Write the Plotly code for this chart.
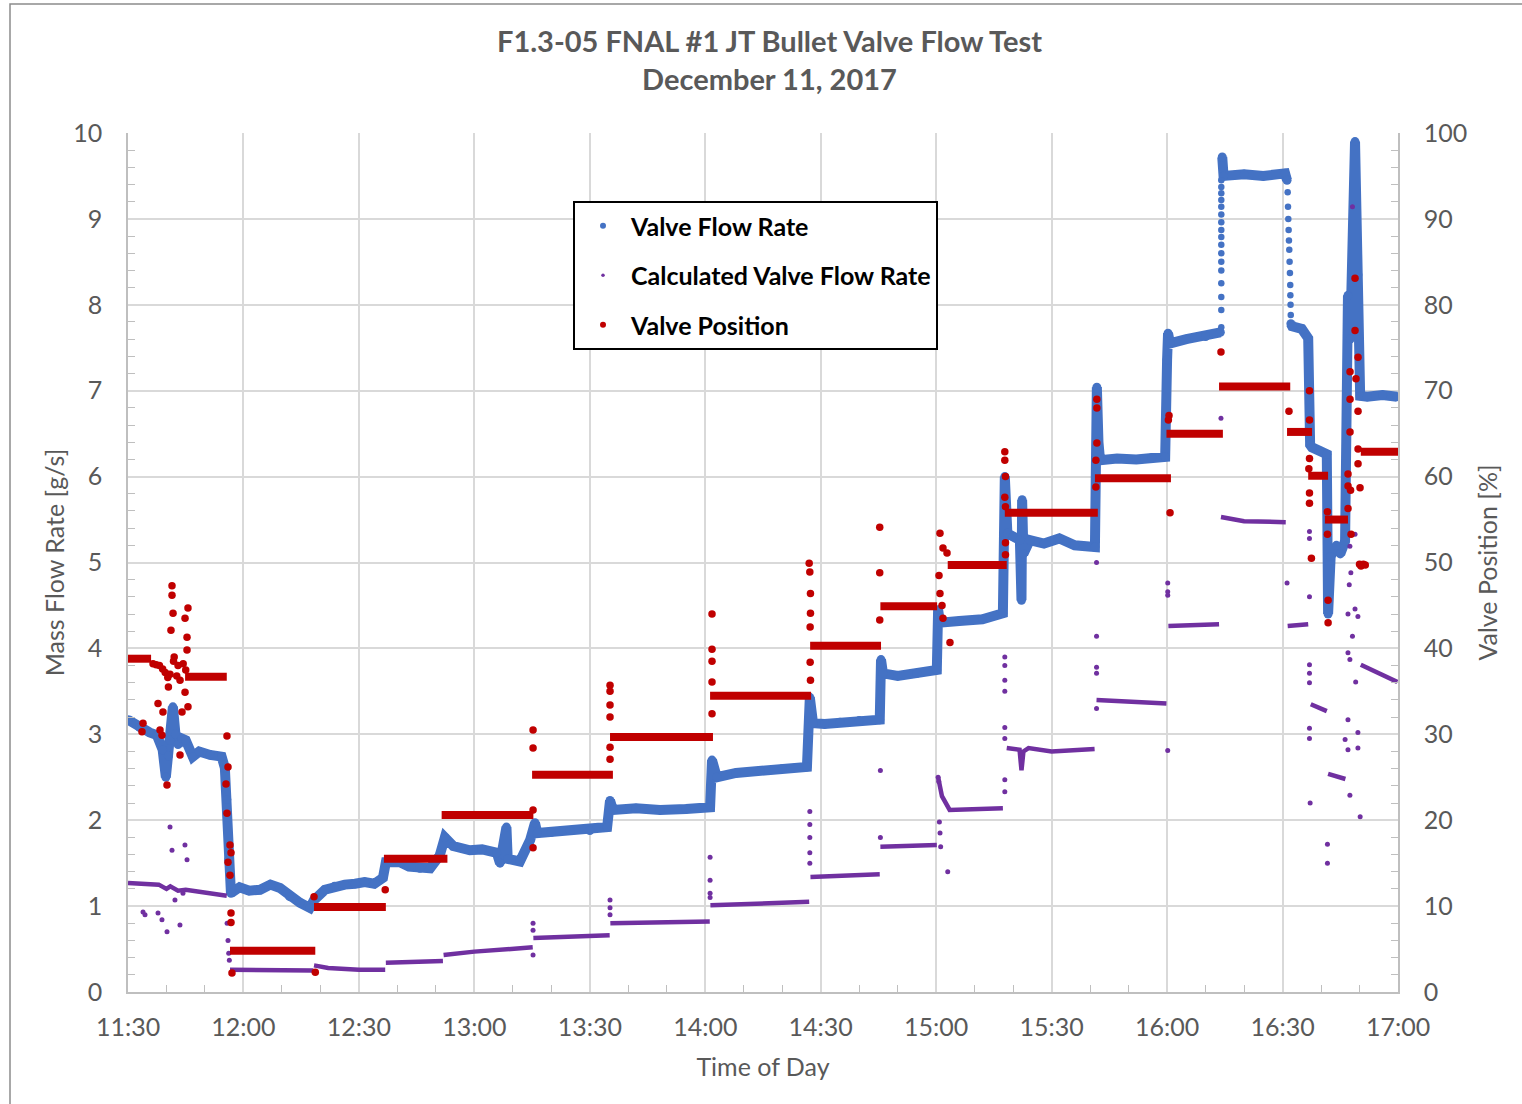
import plotly.graph_objects as go

DAY = "2017-12-11 "

TITLE_LINES = ["F1.3-05 FNAL #1 JT Bullet Valve Flow Test", "December 11, 2017"]
X_TITLE = "Time of Day"
Y_TITLE = "Mass Flow Rate [g/s]"
Y2_TITLE = "Valve Position [%]"
NAMES = ["Valve Flow Rate", "Calculated Valve Flow Rate", "Valve Position"]

# ---- Valve Flow Rate (g/s): continuous record (None = break where samples are sparse) ----
flow_time = ["11:30:00", "11:33:00", "11:35:40", "11:37:30", "11:39:00", "11:39:50", "11:40:30", "11:40:55",
             "11:41:40", "11:42:20", "11:43:00", "11:44:00", "11:45:00", "11:46:50", "11:48:30", "11:51:20",
             "11:54:20", "11:55:10", "11:55:40", "11:56:10", "11:56:45", "11:59:00", "12:01:30", "12:04:20",
             "12:07:00", "12:09:30", "12:12:00", "12:14:40", "12:17:15", "12:18:20", "12:21:10", "12:23:40",
             "12:26:20", "12:29:00", "12:31:30", "12:34:00", "12:36:15", "12:37:00", "12:40:40", "12:43:00",
             "12:45:50", "12:48:30", "12:51:00", "12:52:20", "12:54:30", "12:58:50", "13:02:00", "13:05:50",
             "13:06:40", "13:08:20", "13:08:40", "13:11:50", "13:14:30", "13:15:45", "13:16:20", "13:20:00",
             "13:24:50", "13:30:00", "13:34:30", "13:35:15", "13:36:00", "13:42:00", "13:48:15", "13:55:00",
             "14:01:15", "14:01:45", "14:03:00", "14:08:00", "14:14:15", "14:20:00", "14:26:25", "14:27:10",
             "14:28:00", "14:31:00", "14:35:00", "14:40:00", "14:45:20", "14:45:40", "14:46:10", "14:50:00",
             "14:55:00", "15:00:10", "15:00:30", "15:01:00", "15:06:00", "15:12:00", "15:17:20", "15:17:50",
             "15:18:30", "15:20:00", "15:21:45", "15:22:10", "15:22:20", "15:22:40", "15:24:20", "15:28:00",
             "15:32:00", "15:36:00", "15:41:15", "15:41:45", "15:42:10", "15:42:35", "15:47:00", "15:52:00",
             "15:56:00", "15:59:30", "16:00:00", "16:00:15", "16:00:45", "16:05:00", "16:10:00", "16:13:50",
             None,
             "16:14:20", "16:14:40", "16:20:00", "16:25:00", "16:30:40", "16:31:10",
             None,
             "16:32:10", "16:32:30", "16:35:00", "16:36:40", "16:37:10", "16:37:40", "16:41:30", "16:41:50",
             "16:42:30", "16:44:00", "16:45:00", "16:46:15", "16:47:00", "16:47:35", "16:48:50", "16:49:35",
             "16:50:10", "16:52:00", "16:56:00", "16:59:45"]
flow_value = [3.17, 3.08, 3.02, 2.99, 2.82, 2.50, 2.75, 2.93,
              3.32, 3.00, 2.88, 2.95, 2.93, 2.74, 2.80, 2.76,
              2.74, 2.61, 2.24, 1.54, 1.15, 1.22, 1.18, 1.19,
              1.25, 1.21, 1.11, 1.04, 0.98, 1.07, 1.19, 1.23,
              1.25, 1.26, 1.28, 1.26, 1.33, 1.51, 1.51, 1.46,
              1.44, 1.44, 1.59, 1.80, 1.70, 1.65, 1.66, 1.62,
              1.50, 1.92, 1.55, 1.52, 1.77, 1.97, 1.85, 1.86,
              1.88, 1.88, 1.92, 2.23, 2.12, 2.14, 2.12, 2.13,
              2.15, 2.70, 2.50, 2.55, 2.58, 2.60, 2.62, 3.43,
              3.13, 3.12, 3.14, 3.16, 3.17, 3.87, 3.71, 3.68,
              3.71, 3.75, 4.45, 4.30, 4.32, 4.34, 4.41, 6.00,
              5.34, 5.30, 5.26, 4.56, 5.73, 5.10, 5.26, 5.22,
              5.28, 5.20, 5.18, 7.04, 6.40, 6.19, 6.21, 6.20,
              6.22, 6.23, 7.36, 7.67, 7.55, 7.60, 7.63, 7.68,
              None,
              9.72, 9.50, 9.52, 9.50, 9.53, 9.45,
              None,
              7.78, 7.75, 7.72, 7.61, 6.37, 6.34, 6.26, 4.40,
              5.07, 5.20, 5.10, 5.25, 8.11, 7.60, 9.90, 8.35,
              6.94, 6.93, 6.95, 6.93]

# ---- Valve Flow Rate: sparse samples during the two large moves ----
flow_dot_time = ["16:14:05"] * 17 + ["16:31:20", "16:31:25", "16:31:30", "16:31:35", "16:31:40", "16:31:45",
                                     "16:31:50", "16:31:55", "16:32:00", "16:32:02", "16:32:05", "16:32:08"]
flow_dot_value = [7.74, 7.94, 8.09, 8.25, 8.40, 8.50, 8.60, 8.70, 8.79, 8.87, 8.96, 9.05, 9.14, 9.22,
                  9.30, 9.37, 9.45,
                  9.31, 9.14, 9.00, 8.87, 8.75, 8.64, 8.50, 8.37, 8.23, 8.11, 8.00, 7.88]

# ---- Calculated Valve Flow Rate (g/s): steady segments (None = break) ----
calc_time = ["11:30:00", "11:38:00", "11:40:00", "11:41:00", "11:43:00", "11:45:00", "11:55:40", None,
             "11:56:30", "12:10:00", "12:14:00", "12:18:10", None,
             "12:18:20", "12:22:00", "12:30:00", "12:36:50", None,
             "12:37:00", "12:51:50", None,
             "12:52:00", "13:00:00", "13:15:10", None,
             "13:15:20", "13:35:10", None,
             "13:35:20", "14:01:10", None,
             "14:01:20", "14:27:00", None,
             "14:27:20", "14:45:20", None,
             "14:45:30", "15:00:10", None,
             "15:00:30", "15:01:30", "15:03:30", "15:17:20", None,
             "15:18:20", "15:21:40", "15:22:10", "15:22:40", "15:24:00", "15:30:00", "15:41:10", None,
             "15:41:40", "15:50:00", "15:59:50", None,
             "16:00:20", "16:13:30", None,
             "16:14:00", "16:20:00", "16:30:50", None,
             "16:31:20", "16:36:40", None,
             "16:37:20", "16:41:30", None,
             "16:41:50", "16:46:20", None,
             "16:50:20", "16:59:50"]
calc_value = [1.27, 1.25, 1.20, 1.23, 1.18, 1.19, 1.12, None,
              0.26, 0.26, 0.25, 0.25, None,
              0.31, 0.28, 0.26, 0.26, None,
              0.34, 0.36, None,
              0.43, 0.47, 0.52, None,
              0.63, 0.66, None,
              0.80, 0.82, None,
              1.01, 1.05, None,
              1.34, 1.37, None,
              1.69, 1.71, None,
              2.50, 2.28, 2.12, 2.14, None,
              2.84, 2.82, 2.58, 2.80, 2.84, 2.80, 2.83, None,
              3.40, 3.38, 3.36, None,
              4.26, 4.28, None,
              5.53, 5.48, 5.47, None,
              4.26, 4.28, None,
              3.35, 3.27, None,
              2.54, 2.48, None,
              3.81, 3.61]

# ---- Calculated Valve Flow Rate: transient samples ----
calc_dot_time = ["11:33:54", "11:34:25", "11:37:48", "11:38:50", "11:40:08", "11:40:55", "11:41:26", "11:43:30",
                 "11:44:48", "11:45:20", "11:44:17", "11:42:12", "11:55:45", "11:55:59", "11:56:10", "11:56:20",
                 "13:15:15", "13:15:15", "13:15:15", "13:35:15", "13:35:15", "13:35:15",
                 "14:01:15", "14:01:15", "14:01:15", "14:01:15",
                 "14:27:10", "14:27:10", "14:27:10", "14:27:10", "14:27:10",
                 "14:45:30", "14:45:30", "15:00:30", "15:00:40", "15:00:50", "15:01:00", "15:01:10", "15:03:00",
                 "15:17:50", "15:17:50", "15:17:50", "15:17:50", "15:17:50", "15:17:50", "15:17:50", "15:17:50",
                 "15:41:40", "15:41:40", "15:41:40", "15:41:40", "15:41:40",
                 "16:00:10", "16:00:10", "16:00:10", "16:00:10", "16:14:00", "16:31:10",
                 "16:37:00", "16:37:00", "16:37:00", "16:37:00", "16:37:00", "16:37:00", "16:37:00", "16:37:00",
                 "16:37:10", "16:41:40", "16:41:40",
                 "16:47:00", "16:48:50", "16:49:35", "16:48:10", "16:47:00", "16:47:30", "16:49:00", "16:47:00",
                 "16:46:15", "16:47:00", "16:49:35", "16:49:35", "16:47:30", "16:50:10", "16:47:30", "16:48:50",
                 "16:48:10", "16:47:45", "16:47:20"]
calc_dot_value = [0.93, 0.90, 0.92, 0.84, 0.70, 1.92, 1.65, 0.78,
                  1.71, 1.54, 1.15, 1.07, 0.80, 0.60, 0.45, 0.37,
                  0.80, 0.72, 0.43, 1.07, 0.98, 0.90,
                  1.57, 1.30, 1.15, 1.10,
                  2.10, 1.95, 1.80, 1.62, 1.50,
                  2.58, 1.80, 2.50, 2.45, 1.98, 1.85, 1.69, 1.40,
                  3.90, 3.80, 3.63, 3.50, 3.08, 2.95, 2.47, 2.33,
                  5.00, 4.14, 3.78, 3.71, 3.30,
                  4.76, 4.66, 4.62, 2.81, 6.68, 4.76,
                  5.36, 5.28, 4.60, 3.81, 3.71, 3.60, 3.07, 2.95,
                  2.20, 1.72, 1.50,
                  4.40, 4.46, 4.37, 4.14, 3.95, 3.87, 3.61, 3.17,
                  2.94, 2.82, 3.02, 2.84, 2.29, 2.04, 5.19, 5.33,
                  9.14, 4.88, 4.74]

# ---- Valve Position (%): held settings ----
pos_start = ["11:30:00", "11:44:50", "11:56:30", "12:18:20", "12:36:30", "12:51:30", "13:15:00", "13:35:15",
             "14:01:15", "14:27:15", "14:45:30", "15:03:00", "15:17:50", "15:41:15", "15:59:50", "16:13:30",
             "16:31:10", "16:36:40", "16:41:00", "16:50:20"]
pos_end = ["11:36:00", "11:55:40", "12:18:40", "12:37:00", "12:53:00", "13:15:20", "13:36:00", "14:02:00",
           "14:27:30", "14:45:40", "15:00:15", "15:18:20", "15:42:00", "16:01:00", "16:14:30", "16:32:00",
           "16:37:40", "16:41:50", "16:47:00", "17:00:00"]
pos_value = [38.8, 36.7, 4.8, 9.9, 15.5, 20.6, 25.3, 29.7,
             34.5, 40.3, 44.9, 49.7, 55.8, 59.8, 65.0, 70.5,
             65.2, 60.1, 55.0, 62.9]

# ---- Valve Position (%): transient samples ----
pos_dot_time = ["11:36:30", "11:37:20", "11:38:10", "11:39:00", "11:39:40", "11:40:20",
                "11:41:26", "11:41:26", "11:41:42", "11:41:10", "11:45:35", "11:44:49", "11:45:20", "11:45:20",
                "11:43:31", "11:44:49", "11:45:35", "11:44:02", "11:37:48", "11:39:05", "11:33:54", "11:33:38",
                "11:38:19", "11:38:50", "11:40:08", "11:43:31", "11:40:30", "11:41:50", "11:42:40", "11:44:20",
                "11:45:00", "11:40:55", "11:42:00", "11:43:00",
                "11:55:43", "11:55:59", "11:55:28", "11:55:43", "11:56:30", "11:56:46", "11:55:59", "11:56:30",
                "11:56:46", "11:56:46", "11:57:01",
                "12:18:20", "12:18:40", "12:36:50",
                "13:15:15", "13:15:15", "13:15:15", "13:15:15",
                "13:35:15", "13:35:15", "13:35:15", "13:35:15", "13:35:15", "13:35:15",
                "14:01:45", "14:01:45", "14:01:45", "14:01:45", "14:01:45",
                "14:27:00", "14:27:10", "14:27:20", "14:27:20", "14:27:15", "14:27:15", "14:27:20",
                "14:45:20", "14:45:20", "14:45:20",
                "15:00:59", "15:01:46", "15:02:49", "15:00:44", "15:00:59", "15:01:31", "15:01:46", "15:03:35",
                "15:17:50", "15:17:50", "15:18:00", "15:17:50", "15:18:00", "15:18:00", "15:18:00",
                "15:41:45", "15:41:45", "15:41:45", "15:41:30", "15:41:30",
                "16:00:46", "16:00:30", "16:00:20", "16:14:00", "16:31:40",
                "16:37:00", "16:37:00", "16:37:00", "16:36:50", "16:37:00", "16:37:00", "16:37:30",
                "16:41:40", "16:41:40", "16:41:50", "16:41:50",
                "16:48:50", "16:48:50", "16:49:37", "16:47:32", "16:49:05", "16:47:32", "16:49:37", "16:47:32",
                "16:49:37", "16:49:37", "16:47:01", "16:50:08", "16:47:01", "16:47:48", "16:50:23", "16:47:01",
                "16:47:40", "16:50:00", "16:50:30", "16:51:00", "16:51:30"]
pos_dot_value = [38.2, 38.1, 38.0, 37.6, 37.2, 36.6,
                 47.3, 46.2, 44.1, 42.1, 44.7, 43.5, 41.3, 39.8,
                 36.3, 34.9, 33.2, 32.6, 33.6, 32.6, 31.3, 30.3,
                 30.5, 29.9, 24.1, 27.6, 35.5, 38.5, 36.8, 38.2,
                 37.5, 37.0, 39.0, 38.0,
                 29.8, 26.2, 24.2, 20.8, 17.1, 16.2, 15.1, 13.6,
                 9.2, 8.1, 2.2,
                 11.1, 2.3, 11.9,
                 21.2, 16.8, 30.5, 28.4,
                 35.7, 35.0, 33.4, 32.0, 28.5, 27.1,
                 44.0, 39.9, 38.5, 36.1, 32.4,
                 49.9, 48.9, 46.4, 44.1, 42.5, 38.4, 36.3,
                 54.1, 48.8, 43.3,
                 53.4, 51.7, 51.1, 48.5, 46.4, 45.0, 43.5, 40.7,
                 62.9, 61.9, 60.0, 57.6, 56.5, 52.3, 50.9,
                 69.0, 68.0, 63.9, 61.9, 58.8,
                 55.8, 67.1, 66.6, 74.5, 67.6,
                 70.0, 66.6, 62.1, 60.9, 58.1, 56.9, 50.5,
                 55.9, 53.3, 45.6, 43.0,
                 83.1, 77.0, 73.9, 72.2, 71.4, 69.0, 67.6, 65.2,
                 63.2, 61.5, 58.9, 58.7, 56.3, 53.3, 49.6, 60.3,
                 58.4, 49.8, 49.7, 49.8, 49.7]

BLUE = "#4472C4"
PURPLE = "#7030A0"
RED = "#C00000"
GRID = "#D9D9D9"
AXIS = "#BFBFBF"
TEXT = "#595959"
FONT = "Lato"
FS = 25


def ts(lst):
    return [None if t is None else DAY + t for t in lst]


step_x, step_y = [], []
for s, e, v in zip(pos_start, pos_end, pos_value):
    step_x += [DAY + s, DAY + e, None]
    step_y += [v, v, None]

fig = go.Figure()

fig.add_trace(go.Scatter(x=ts(flow_time), y=flow_value, mode="lines+markers", connectgaps=False,
                         line=dict(color=BLUE, width=10), marker=dict(color=BLUE, size=9),
                         showlegend=False, hoverinfo="skip"))
fig.add_trace(go.Scatter(x=ts(flow_dot_time), y=flow_dot_value, mode="markers",
                         marker=dict(color=BLUE, size=6.5),
                         showlegend=False, hoverinfo="skip"))
fig.add_trace(go.Scatter(x=ts(calc_time), y=calc_value, mode="lines",
                         line=dict(color=PURPLE, width=4.5), connectgaps=False,
                         showlegend=False, hoverinfo="skip"))
fig.add_trace(go.Scatter(x=ts(calc_dot_time), y=calc_dot_value, mode="markers",
                         marker=dict(color=PURPLE, size=5),
                         showlegend=False, hoverinfo="skip"))
fig.add_trace(go.Scatter(x=step_x, y=step_y, mode="lines", yaxis="y2",
                         line=dict(color=RED, width=8), connectgaps=False,
                         showlegend=False, hoverinfo="skip"))
fig.add_trace(go.Scatter(x=ts(pos_dot_time), y=pos_dot_value, mode="markers", yaxis="y2",
                         marker=dict(color=RED, size=7.5),
                         showlegend=False, hoverinfo="skip"))

# legend entries
for name, col, sz, grp in [(NAMES[0], BLUE, 6, "a"), (NAMES[1], PURPLE, 3.5, "b"), (NAMES[2], RED, 6, "c")]:
    fig.add_trace(go.Scatter(x=[None], y=[None], mode="markers", name=name, legendgroup=grp,
                             marker=dict(color=col, size=sz), showlegend=True))

axis_font = dict(family=FONT, size=FS, color=TEXT)

fig.update_layout(
    width=1522, height=1104,
    margin=dict(l=128, r=124, t=133, b=112),
    paper_bgcolor="white", plot_bgcolor="white",
    font=dict(family=FONT, color=TEXT),
    annotations=[dict(text="<b>" + "<br>".join(TITLE_LINES) + "</b>", showarrow=False,
                      x=0.5, xref="paper", xanchor="center", xshift=6,
                      y=(992 - 21) / 859, yref="paper", yanchor="top",
                      font=dict(family=FONT, size=29, color=TEXT))],
    legend=dict(x=(573 - 128) / 1270, y=(992 - 201) / 859, xanchor="left", yanchor="top",
                bordercolor="black", borderwidth=2, bgcolor="white",
                font=dict(family=FONT, size=FS, color="black", weight="bold"),
                tracegroupgap=14, itemsizing="trace", itemwidth=46),
    showlegend=True,
    xaxis=dict(type="date", range=[DAY + "11:30:00", DAY + "17:00:00"],
               dtick=30 * 60 * 1000, tick0=DAY + "11:30:00", tickformat="%H:%M",
               showgrid=True, gridcolor=GRID, gridwidth=1.5,
               showline=True, linecolor=AXIS, linewidth=1.5, ticks="",
               minor=dict(dtick=10 * 60 * 1000, ticks="inside", ticklen=7, tickcolor=AXIS,
                          tickwidth=1.2, showgrid=False),
               tickfont=axis_font, ticklabelstandoff=12,
               title=dict(text=X_TITLE, font=axis_font, standoff=19),
               zeroline=False),
    yaxis=dict(range=[0, 10], dtick=1, showgrid=True, gridcolor=GRID, gridwidth=1.5,
               showline=True, linecolor=AXIS, linewidth=1.5, ticks="",
               minor=dict(dtick=0.2, ticks="inside", ticklen=7, tickcolor=AXIS, tickwidth=1.2,
                          showgrid=False),
               tickfont=axis_font, ticklabelstandoff=19,
               title=dict(text=Y_TITLE, font=axis_font, standoff=1),
               zeroline=False),
    yaxis2=dict(range=[0, 100], dtick=10, overlaying="y", side="right", showgrid=False,
                showline=True, linecolor=AXIS, linewidth=1.5, ticks="",
                minor=dict(dtick=2, ticks="inside", ticklen=7, tickcolor=AXIS, tickwidth=1.2,
                           showgrid=False),
                tickfont=axis_font, ticklabelstandoff=19,
                title=dict(text=Y2_TITLE, font=axis_font, standoff=13),
                zeroline=False),
    shapes=[dict(type="rect", xref="paper", yref="paper",
                 x0=(10 - 128) / 1270, x1=(1540 - 128) / 1270,
                 y0=(992 - 1120) / 859, y1=(992 - 4) / 859,
                 line=dict(color="#8C8C8C", width=1.5), fillcolor="rgba(0,0,0,0)", layer="below")],
)

fig.write_html("out.html")
